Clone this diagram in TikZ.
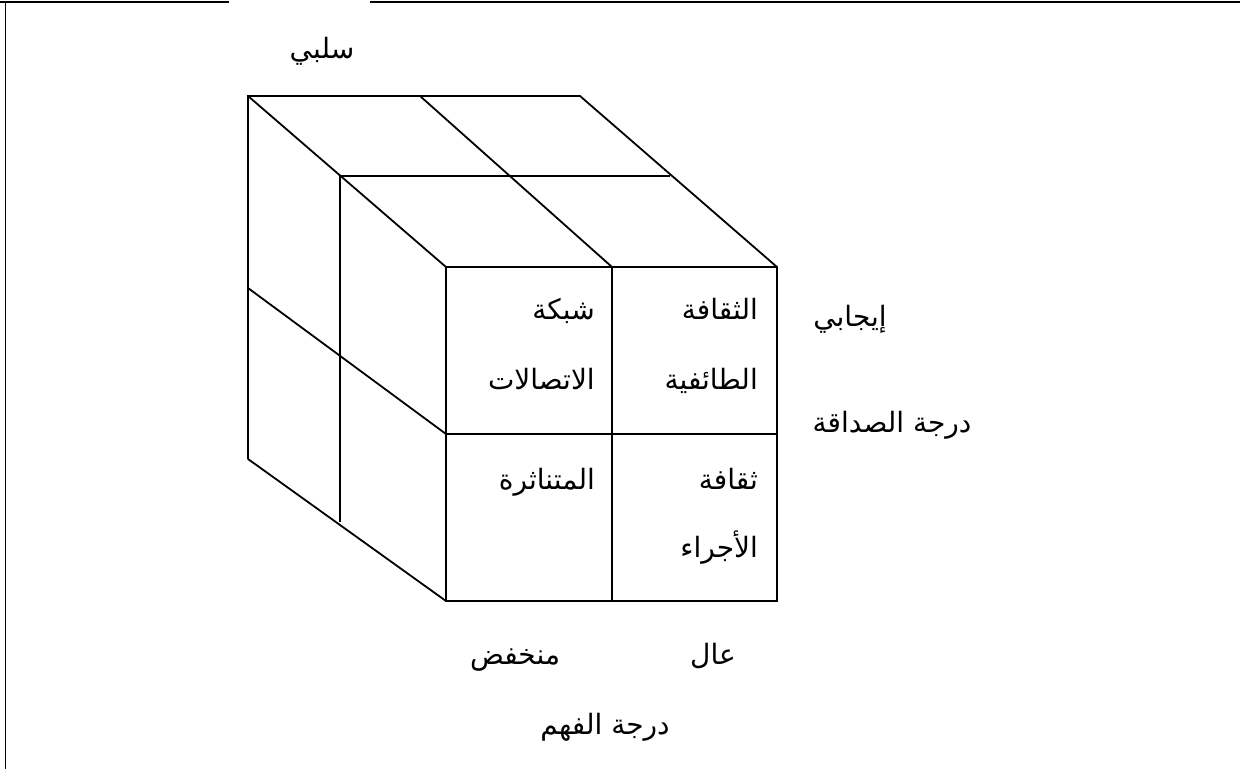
\documentclass[tikz,border=0pt]{standalone}
\usepackage{fontspec}
\newfontfamily\arabicfont[Script=Arabic]{DejaVu Sans}
\TeXXeTstate=1
\tikzset{
  ar/.style={font=\arabicfont\fontsize{28}{32}\selectfont, inner sep=0pt},
  edge/.style={line width=1.8pt},
  frame/.style={line width=1.8pt}
}
\newcommand{\AR}[1]{\beginR #1\endR}
\begin{document}
\begin{tikzpicture}[x=1pt,y=-1pt]
\useasboundingbox (0,0) rectangle (1240,769);
% frame
\coordinate (T0) at (0,2);
\coordinate (T1) at (229,2);
\coordinate (T2) at (370,2);
\coordinate (T3) at (1240,2);
\coordinate (S0) at (5.5,2);
\coordinate (S1) at (5.5,769);
\draw[frame] (T0) -- (T1);
\draw[frame] (T2) -- (T3);
\draw[frame] (S0) -- (S1);
% cube points
\coordinate (B1) at (248,96);
\coordinate (B2) at (420,96);
\coordinate (B3) at (580,96);
\coordinate (M1) at (340,176);
\coordinate (M3) at (670,176);
\coordinate (F1) at (446,267);
\coordinate (F2) at (612,267);
\coordinate (F3) at (777,267);
\coordinate (F4) at (446,434);
\coordinate (F5) at (612,434);
\coordinate (F6) at (777,434);
\coordinate (F7) at (446,601);
\coordinate (F8) at (612,601);
\coordinate (F9) at (777,601);
\coordinate (L1) at (248,459);
\coordinate (L2) at (248,288);
\coordinate (V) at (340,522);
% cube edges
\draw[edge] (L1) -- (B1) -- (B3) -- (F3);
\draw[edge] (B1) -- (F1);
\draw[edge] (B2) -- (F2);
\draw[edge] (M1) -- (M3);
\draw[edge] (M1) -- (V);
\draw[edge] (L1) -- (F7);
\draw[edge] (L2) -- (F4);
\draw[edge] (F1) rectangle (F9);
\draw[edge] (F2) -- (F8);
\draw[edge] (F4) -- (F6);
% cell texts
\node[ar, anchor=base east] (c1a) at (595,319) {\AR{شبكة}};
\node[ar, anchor=base east] (c1b) at (595,389) {\AR{الاتصالات}};
\node[ar, anchor=base east] (c2a) at (758,319) {\AR{الثقافة}};
\node[ar, anchor=base east] (c2b) at (758,389) {\AR{الطائفية}};
\node[ar, anchor=base east] (c3a) at (595,489) {\AR{المتناثرة}};
\node[ar, anchor=base east] (c4a) at (758,489) {\AR{ثقافة}};
\node[ar, anchor=base east] (c4b) at (758,557) {\AR{الأجراء}};
% axis labels
\node[ar, anchor=base] (neg) at (322,58) {\AR{سلبي}};
\node[ar, anchor=base] (pos) at (850,326) {\AR{إيجابي}};
\node[ar, anchor=base] (fr) at (892,432) {\AR{درجة الصداقة}};
\node[ar, anchor=base] (low) at (515,664) {\AR{منخفض}};
\node[ar, anchor=base] (high) at (713,664) {\AR{عال}};
\node[ar, anchor=base] (und) at (605,734) {\AR{درجة الفهم}};
\end{tikzpicture}
\end{document}
